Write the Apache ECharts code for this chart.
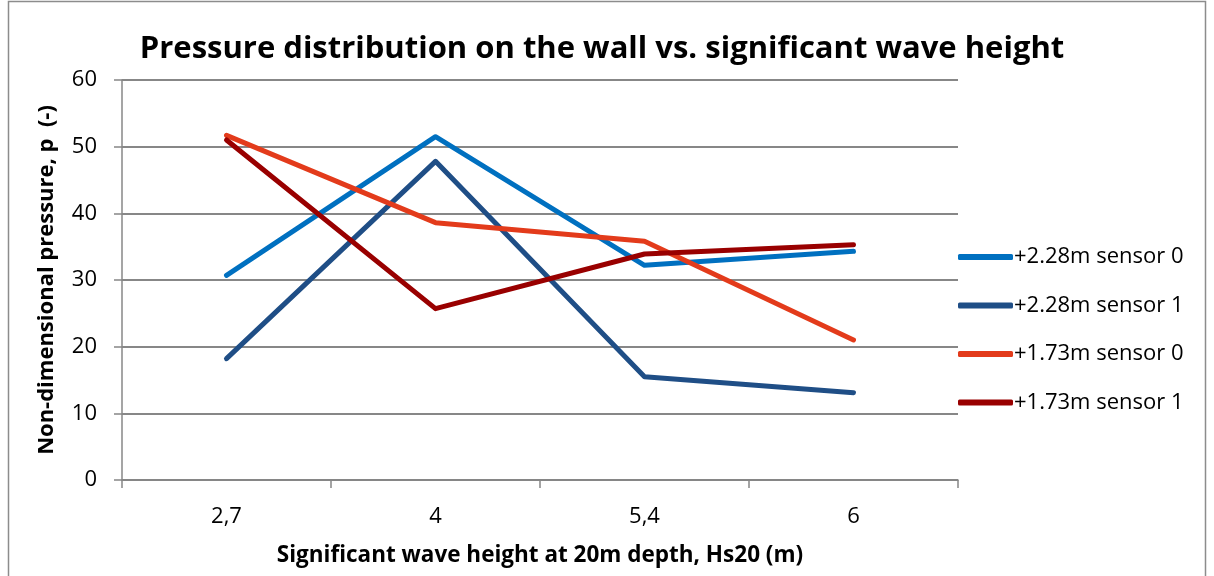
<!DOCTYPE html>
<html>
<head>
<meta charset="utf-8">
<script src="https://cdn.jsdelivr.net/npm/echarts@6/dist/echarts.min.js"></script>
<style>
  html, body { margin: 0; padding: 0; background: #fff; }
  #chart { width: 1214px; height: 576px; }
</style>
</head>
<body>
<div id="chart"></div>
<script>
// Significant wave height categories (m)
const categories = ['2,7', '4', '5,4', '6'];

// Non-dimensional pressure per sensor
const s228_0 = [30.7, 51.5, 32.2, 34.3];
const s228_1 = [18.2, 47.8, 15.5, 13.1];
const s173_0 = [51.7, 38.6, 35.8, 21.0];
const s173_1 = [51.0, 25.7, 33.9, 35.3];

const seriesNames = ['+2.28m sensor 0', '+2.28m sensor 1', '+1.73m sensor 0', '+1.73m sensor 1'];
const seriesColors = ['#0070C0', '#1F4E86', '#E33B1B', '#990000'];
const seriesData = [s228_0, s228_1, s173_0, s173_1];

const yTicks = { min: 0, max: 60, interval: 10 };

const font = '"Open Sans", "Liberation Sans", sans-serif';
const gray = '#878787';

const chart = echarts.init(document.getElementById('chart'));
chart.setOption({
  animation: false,
  backgroundColor: '#ffffff',
  title: {
    text: 'Pressure distribution on the wall vs. significant wave height',
    left: 597,
    textAlign: 'center',
    top: 29,
    textStyle: { fontFamily: font, fontWeight: 'bold', fontSize: 31, color: '#000' }
  },
  graphic: [{
    type: 'rect',
    shape: { x: 8.5, y: 1.5, width: 1197, height: 600 },
    style: { fill: 'none', stroke: '#8c8c8c', lineWidth: 1.5 },
    silent: true
  }],
  legend: {
    orient: 'vertical',
    left: 953,
    top: 241,
    itemWidth: 55,
    itemHeight: 6,
    itemGap: 26.5,
    icon: 'roundRect',
    data: seriesNames,
    textStyle: { fontFamily: font, fontSize: 22, color: '#000', padding: [0, 0, 0, -4] }
  },
  grid: { left: 122, right: 256, top: 80, bottom: 96 },
  xAxis: {
    type: 'category',
    data: categories,
    boundaryGap: true,
    name: 'Significant wave height at 20m depth, Hs20 (m)',
    nameLocation: 'middle',
    nameGap: 64,
    nameTextStyle: { fontFamily: font, fontWeight: 'bold', fontSize: 22.5, color: '#000' },
    axisLine: { lineStyle: { color: gray, width: 1.5 } },
    axisTick: { show: true, length: 8, lineStyle: { color: gray, width: 1.5 } },
    axisLabel: { fontFamily: font, fontSize: 22, color: '#000', margin: 26 }
  },
  yAxis: {
    type: 'value',
    min: yTicks.min,
    max: yTicks.max,
    interval: yTicks.interval,
    name: 'Non-dimensional pressure, p  (-)',
    nameLocation: 'middle',
    nameGap: 64,
    nameTextStyle: { fontFamily: font, fontWeight: 'bold', fontSize: 22, color: '#000' },
    axisLine: { show: true, lineStyle: { color: gray, width: 1.5 } },
    axisTick: { show: true, length: 8, lineStyle: { color: gray, width: 1.5 } },
    axisLabel: { fontFamily: font, fontSize: 22, color: '#000', margin: 25 },
    splitLine: { show: true, lineStyle: { color: gray, width: 2 } }
  },
  series: seriesNames.map((name, i) => ({
    name: name,
    type: 'line',
    data: seriesData[i],
    symbol: 'none',
    color: seriesColors[i],
    lineStyle: { width: 5, color: seriesColors[i], cap: 'round', join: 'round' }
  }))
});
</script>
</body>
</html>
